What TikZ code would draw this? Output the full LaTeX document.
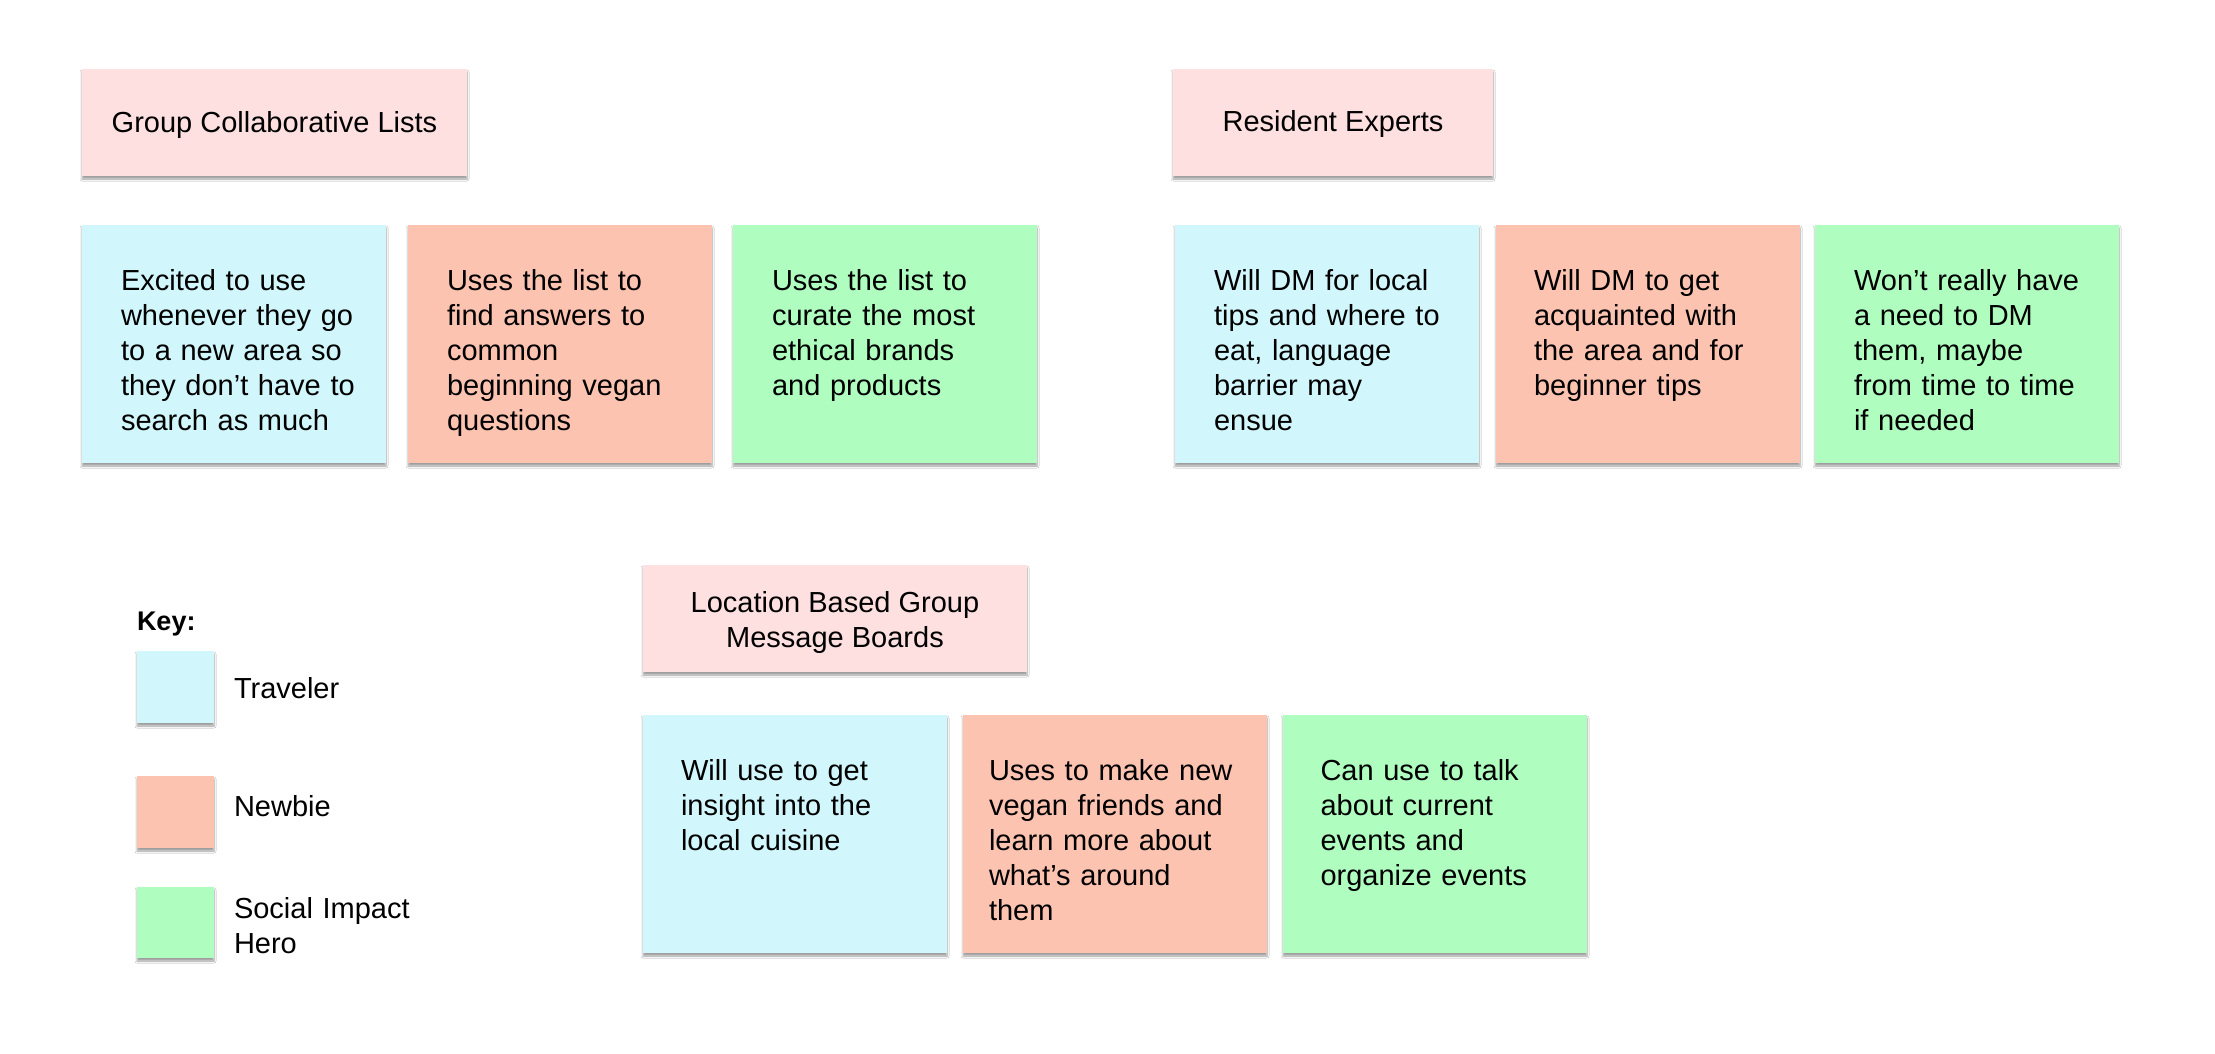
\documentclass[tikz,border=0pt]{standalone}
\usepackage{fontspec}
\setmainfont{Liberation Sans}
\usetikzlibrary{shadows.blur}
\definecolor{hdrpink}{HTML}{FEE0E1}
\definecolor{cblue}{HTML}{D1F7FC}
\definecolor{corange}{HTML}{FDC3B1}
\definecolor{cgreen}{HTML}{AFFEC0}
\tikzset{
  card/.style={rectangle, draw=none, inner sep=0pt, outer sep=0pt, anchor=north west,
    blur shadow={shadow xshift=0pt, shadow yshift=-3pt, shadow blur radius=2pt, shadow opacity=38, shadow blur steps=6}},
  hdr/.style={card, fill=hdrpink, minimum height=107pt},
  bigcard/.style={card, minimum width=304pt, minimum height=238pt},
  keybox/.style={card, minimum width=77pt, minimum height=72pt},
  txt/.style={inner sep=0pt, outer sep=0pt, anchor=north west, align=left, text width=300pt,
    font=\fontsize{29}{35}\selectfont},
  ltxt/.style={inner sep=0pt, outer sep=0pt, anchor=base west, font=\fontsize{29}{35}\selectfont},
  htxt/.style={inner sep=0pt, outer sep=0pt, align=center, font=\fontsize{29}{35}\selectfont}
}
\begin{document}
\begin{tikzpicture}[x=1pt,y=-1pt]
\useasboundingbox (0,0) rectangle (2215,1053);
\fill[white] (0,0) rectangle (2215,1053);

% ---------- Group Collaborative Lists ----------
\node[hdr, minimum width=385pt] (h1) at (82,69) {};
\node[htxt, anchor=base] (h1t) at (274.5,132) {Group Collaborative Lists};

\node[bigcard, fill=cblue] (a1) at (82,225) {};
\node[txt, anchor=north west] (a1t) at (121,266.2) {\strut Excited to use\\whenever they go\\to a new area so\\they don’t have to\\search as much};
\node[bigcard, fill=corange] (a2) at (408,225) {};
\node[txt] (a2t) at (447,266.2) {\strut Uses the list to\\find answers to\\common\\beginning vegan\\questions};
\node[bigcard, fill=cgreen] (a3) at (733,225) {};
\node[txt] (a3t) at (772,266.2) {\strut Uses the list to\\curate the most\\ethical brands\\and products};

% ---------- Resident Experts ----------
\node[hdr, minimum width=320pt] (h2) at (1173,69) {};
\node[htxt, anchor=base] (h2t) at (1333,131) {Resident Experts};

\node[bigcard, fill=cblue] (b1) at (1175,225) {};
\node[txt] (b1t) at (1214,266.2) {\strut Will DM for local\\tips and where to\\eat, language\\barrier may\\ensue};
\node[bigcard, fill=corange] (b2) at (1496,225) {};
\node[txt] (b2t) at (1534,266.2) {\strut Will DM to get\\acquainted with\\the area and for\\beginner tips};
\node[bigcard, fill=cgreen] (b3) at (1815,225) {};
\node[txt] (b3t) at (1854,266.2) {\strut Won’t really have\\a need to DM\\them, maybe\\from time to time\\if needed};

% ---------- Location Based Group Message Boards ----------
\node[hdr, minimum width=384pt] (h3) at (643,565) {};
\node[htxt, anchor=north] (h3t) at (835,587.5) {\strut Location Based Group\\Message Boards};

\node[bigcard, fill=cblue] (c1) at (643,715) {};
\node[txt] (c1t) at (681,755.5) {\strut Will use to get\\insight into the\\local cuisine};
\node[bigcard, fill=corange] (c2) at (963,715) {};
\node[txt] (c2t) at (989,755.5) {\strut Uses to make new\\vegan friends and\\learn more about\\what’s around\\them};
\node[bigcard, fill=cgreen] (c3) at (1283,715) {};
\node[txt] (c3t) at (1320.5,755.5) {\strut Can use to talk\\about current\\events and\\organize events};

% ---------- Key ----------
\node[ltxt, font=\fontsize{27}{35}\selectfont\bfseries] (key) at (137,630) {Key:};
\node[keybox, fill=cblue] (k1) at (137,651) {};
\node[ltxt] (k1t) at (234,698) {Traveler};
\node[keybox, fill=corange] (k2) at (137,776) {};
\node[ltxt] (k2t) at (234,816) {Newbie};
\node[keybox, fill=cgreen, minimum height=71pt] (k3) at (137,887) {};
\node[txt, text width=200pt] (k3t) at (234,893.5) {\strut Social Impact\\Hero};
\end{tikzpicture}
\end{document}
